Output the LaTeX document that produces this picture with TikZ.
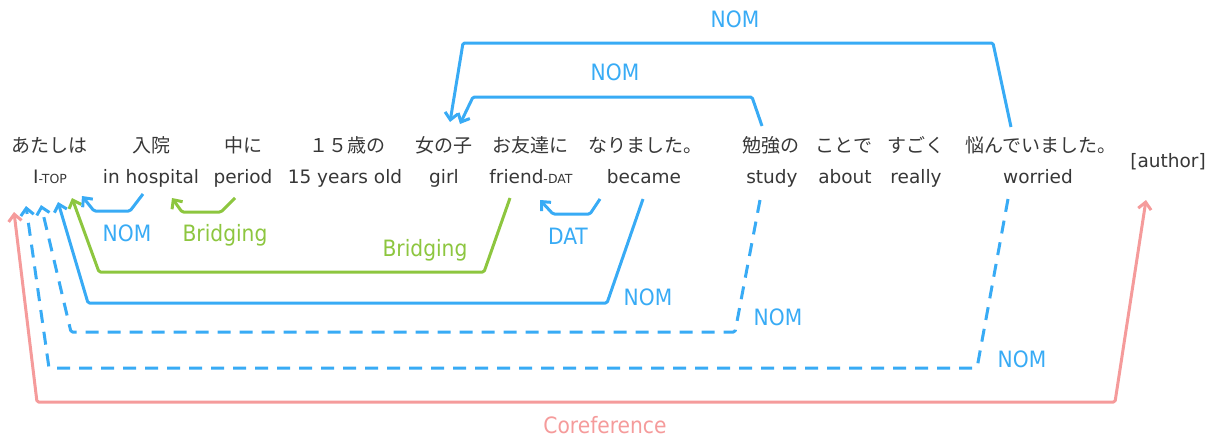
\documentclass[tikz,border=0pt]{standalone}
\usepackage{fontspec}
\setmainfont{DejaVu Sans}
\newfontfamily\jfont{Noto Sans CJK JP}
\newfontfamily\lfont{DejaVu Sans Condensed}
\usetikzlibrary{arrows.meta}
\definecolor{nomblue}{RGB}{56,171,245}
\definecolor{brgreen}{RGB}{141,198,63}
\definecolor{corpink}{RGB}{245,155,155}
\definecolor{txtgray}{RGB}{55,55,55}
\tikzset{
  jp/.style={font=\jfont\fontsize{19}{19}\selectfont, text=txtgray, anchor=base, inner sep=0pt},
  en/.style={font=\fontsize{18.5}{18.5}\selectfont, text=txtgray, anchor=base, inner sep=0pt},
  lab/.style={font=\lfont\fontsize{22.5}{22.5}\selectfont, inner sep=0pt},
  nomlab/.style={lab, text=nomblue},
  brlab/.style={lab, text=brgreen},
  corlab/.style={lab, text=corpink},
  tipa/.tip={Straight Barb[length=7pt,width=13pt]},
  link/.style={line width=3pt, rounded corners=1.5pt, line join=round, -tipa},
  nomlink/.style={link, draw=nomblue},
  nomdash/.style={nomlink, dash pattern=on 13pt off 9pt},
  brlink/.style={link, draw=brgreen},
  corlink/.style={link, draw=corpink, tipa-tipa},
}
\newcommand{\sm}[1]{{\fontsize{12.5}{12.5}\selectfont #1}}
\begin{document}
\begin{tikzpicture}[x=1pt,y=-1pt]
\useasboundingbox (0,0) rectangle (1217,439);
% Japanese row
\node[jp] (j1) at (50,152) {あたしは};
\node[jp] (j2) at (151,152) {入院};
\node[jp] (j3) at (243,152) {中に};
\node[jp] (j4) at (347,152) {１５歳の};
\node[jp] (j5) at (444,152) {女の子};
\node[jp] (j6) at (530,152) {お友達に};
\node[jp] (j7) at (645,152) {なりました。};
\node[jp] (j8) at (771,152) {勉強の};
\node[jp] (j9) at (844,152) {ことで};
\node[jp] (j10) at (916,152) {すごく};
\node[jp] (j11) at (1041,152) {悩んでいました。};
% English row
\node[en] (e1) at (50,183) {I\sm{-TOP}};
\node[en] (e2) at (151,183) {in hospital};
\node[en] (e3) at (243,183) {period};
\node[en] (e4) at (345,183) {15 years old};
\node[en] (e5) at (444,183) {girl};
\node[en] (e6) at (531,183) {friend\sm{-DAT}};
\node[en] (e7) at (644,183) {became};
\node[en] (e8) at (772,183) {study};
\node[en] (e9) at (845,183) {about};
\node[en] (e10) at (916,183) {really};
\node[en] (e11) at (1038,183) {worried};
\node[en] (author) at (1168,167) {[author]};

% endpoints
\coordinate (a1s) at (143,194); \coordinate (a1t) at (82,196);
\coordinate (a2s) at (235,198); \coordinate (a2t) at (172,198);
\coordinate (a3s) at (600,199); \coordinate (a3t) at (540,200);
\coordinate (a4s) at (510,198); \coordinate (a4t) at (72,198);
\coordinate (a5s) at (643,199); \coordinate (a5t) at (58,202);
\coordinate (a6s) at (760,200); \coordinate (a6t) at (41,205);
\coordinate (a7s) at (1008,199); \coordinate (a7t) at (26,206);
\coordinate (c1) at (14,212); \coordinate (c2) at (1146,200);
\coordinate (a9s) at (762,126); \coordinate (a9t) at (460,124);
\coordinate (a10s) at (1011,127); \coordinate (a10t) at (450,122);

% coreference
\draw[corlink] (c1) -- (37,402) -- (1115,402) -- (c2);
\node[corlab] (lc) at (605,425) {Coreference};

% lower links
\draw[nomdash] (a7s) -- (977,368) -- (49,368) -- (a7t);
\node[nomlab] (l7) at (1022,359) {NOM};
\draw[nomdash] (a6s) -- (735,332) -- (71,332) -- (a6t);
\node[nomlab] (l6) at (778,317) {NOM};
\draw[nomlink] (a5s) -- (607,303) -- (88,303) -- (a5t);
\node[nomlab] (l5) at (648,297) {NOM};
\draw[brlink] (a4s) -- (484,272) -- (99,272) -- (a4t);
\node[brlab] (l4) at (425,250) {Bridging};
\draw[nomlink] (a3s) -- (590,214) -- (553,214) -- (a3t);
\node[nomlab] (l3) at (568,236) {DAT};
\draw[brlink] (a2s) -- (221,212) -- (182,212) -- (a2t);
\node[brlab] (l2) at (225,235) {Bridging};
\draw[nomlink] (a1s) -- (130,211) -- (94,211) -- (a1t);
\node[nomlab] (l1) at (127,233) {NOM};

% upper links
\draw[nomlink] (a9s) -- (752,97) -- (473,97) -- (a9t);
\node[nomlab] (l9) at (615,72) {NOM};
\draw[nomlink] (a10s) -- (993,43) -- (463,43) -- (a10t);
\node[nomlab] (l10) at (735,19) {NOM};
\end{tikzpicture}
\end{document}
